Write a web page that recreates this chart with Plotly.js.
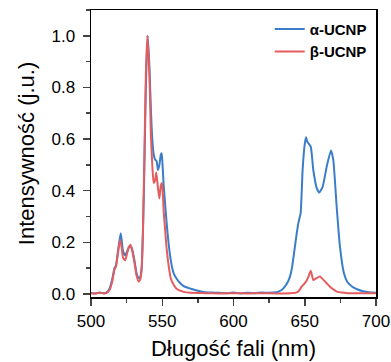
<!DOCTYPE html>
<html>
<head>
<meta charset="utf-8">
<script src="https://cdn.plot.ly/plotly-3.0.1.min.js"></script>
<style>html,body{margin:0;padding:0;background:#fff;}#chart{width:391px;height:362px;}</style>
</head>
<body>
<div id="chart"></div>
<script>
// Wavelengths (nm) and intensities
const alphaX = [500,503,506,509,511,513,515,516.5,517.5,519,520.8,521.5,522.5,524,525,526.5,527.8,529,530.5,532,533.5,534.5,535.5,536.5,537.5,538.5,539.8,541,542,543,544,545,546,547,548,549,549.6,550.2,551,552,553,554,555,556,557,558,560,562,565,570,575,580,585,590,595,600,605,610,615,620,625,630,631.5,634,636,638,639.6,641,642.5,644,645.5,647.1,648.5,650,650.9,651.7,652.5,654.2,656,658.4,660.2,662.6,665.4,668.4,670,672.4,674.7,677.5,680,681.8,684,687.6,691,695,700];
const alphaY = [0.004,0.002,0.005,0.003,0.006,0.02,0.06,0.10,0.11,0.17,0.235,0.21,0.165,0.15,0.16,0.18,0.186,0.17,0.13,0.08,0.062,0.065,0.10,0.25,0.50,0.80,1.0,0.88,0.72,0.60,0.54,0.52,0.515,0.48,0.50,0.54,0.545,0.50,0.42,0.35,0.28,0.22,0.17,0.13,0.10,0.08,0.06,0.045,0.03,0.02,0.012,0.006,0.005,0.004,0.003,0.005,0.002,0.004,0.003,0.005,0.004,0.006,0.009,0.016,0.028,0.045,0.067,0.10,0.158,0.22,0.274,0.313,0.48,0.58,0.607,0.59,0.584,0.571,0.48,0.41,0.393,0.416,0.493,0.556,0.52,0.338,0.183,0.08,0.045,0.035,0.025,0.016,0.01,0.006,0.004];
const betaX = [500,503,506,509,511,513,515,516.5,517.5,519,520.4,521.5,522.5,524,525,526.5,527.8,529,530.5,532,533.5,534.5,535.5,536.5,537.5,538.5,539.5,541,542,543,544,545,545.8,547,548,549,549.8,550.5,551,552,553,554,555,556,558,560,565,570,580,590,600,610,620,630,640,644,646,647.8,649.5,650.9,652.5,654.2,656,657.9,660.7,664.2,667.7,670,672.4,676,680,690,700];
const betaY = [0.003,0.002,0.004,0.002,0.004,0.015,0.05,0.095,0.105,0.16,0.21,0.18,0.14,0.13,0.15,0.18,0.19,0.165,0.12,0.07,0.048,0.055,0.09,0.25,0.55,0.85,1.0,0.85,0.62,0.50,0.43,0.44,0.47,0.41,0.37,0.42,0.43,0.38,0.32,0.25,0.18,0.13,0.09,0.06,0.035,0.02,0.008,0.004,0.003,0.002,0.003,0.002,0.003,0.002,0.003,0.005,0.012,0.028,0.038,0.048,0.065,0.09,0.054,0.06,0.067,0.048,0.028,0.018,0.009,0.005,0.003,0.003,0.003];
const seriesNames = ["α-UCNP","β-UCNP"];

const font = "Liberation Sans, Arial, sans-serif";
const traces = [
  {x: alphaX, y: alphaY, name: seriesNames[0], mode: "lines", type: "scatter",
   line: {color: "#3a7dc8", width: 2, shape: "spline", smoothing: 0.5}},
  {x: betaX, y: betaY, name: seriesNames[1], mode: "lines", type: "scatter",
   line: {color: "#e35d5f", width: 2, shape: "spline", smoothing: 0.5}}
];
const layout = {
  width: 391, height: 362,
  margin: {l: 91, r: 15, t: 10, b: 65},
  paper_bgcolor: "#fff", plot_bgcolor: "#fff",
  font: {family: font, color: "#000"},
  showlegend: true,
  legend: {x: 0.985, y: 0.99, xanchor: "right", yanchor: "top", bgcolor: "rgba(0,0,0,0)",
           font: {family: font, size: 15, weight: "bold"}, tracegroupgap: 0, itemwidth: 30},
  xaxis: {range: [500, 700], dtick: 50, tick0: 500, ticks: "outside", ticklen: 7, tickwidth: 1.5,
          showline: true, linewidth: 1.5, linecolor: "#000", mirror: true, showgrid: false, zeroline: false,
          tickfont: {size: 17, family: font}, ticklabelstandoff: 1,
          minor: {dtick: 25, ticks: "outside", ticklen: 4, tickwidth: 1.5, showgrid: false},
          title: {text: "Długość fali (nm)", font: {size: 22, family: font}, standoff: 10}},
  yaxis: {range: [-0.012, 1.1], dtick: 0.2, tick0: 0, tickformat: ".1f", ticks: "outside", ticklen: 7, tickwidth: 1.5,
          showline: true, linewidth: 1.5, linecolor: "#000", mirror: true, showgrid: false, zeroline: false,
          tickfont: {size: 17, family: font}, ticklabelstandoff: 4,
          minor: {dtick: 0.1, ticks: "outside", ticklen: 4, tickwidth: 1.5, showgrid: false},
          title: {text: "Intensywność (j.u.)", font: {size: 22, family: font}, standoff: 11}}
};
Plotly.newPlot("chart", traces, layout, {displayModeBar: false, staticPlot: true});
</script>
</body>
</html>
